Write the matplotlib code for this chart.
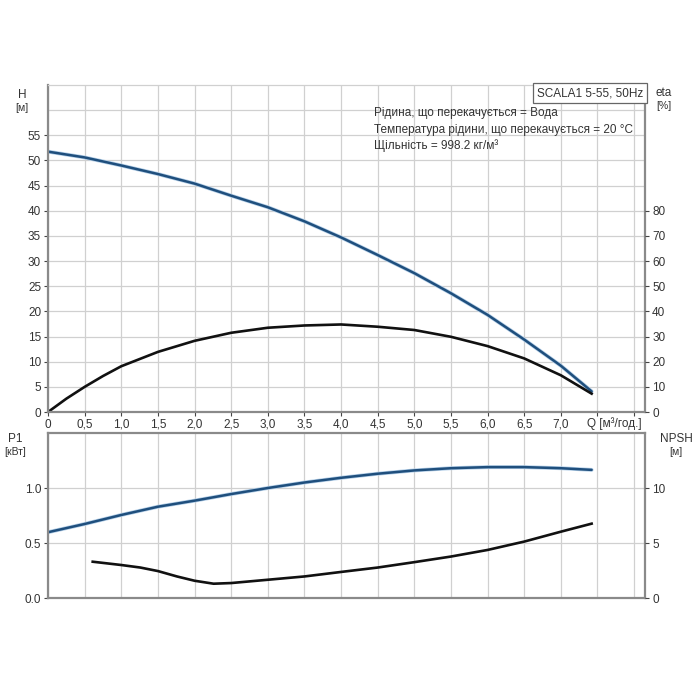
import numpy as np
import matplotlib.pyplot as plt

plt.rcParams['font.family'] = ['Liberation Sans', 'DejaVu Sans']
plt.rcParams['font.size'] = 8.5

# Q [m3/h]
q_top = [0, 0.5, 1.0, 1.5, 2.0, 2.5, 3.0, 3.5, 4.0, 4.5, 5.0, 5.5, 6.0, 6.5, 7.0, 7.42]
head = [51.75, 50.6, 49.0, 47.3, 45.4, 43.0, 40.7, 37.9, 34.7, 31.2, 27.6, 23.6, 19.3, 14.4, 9.2, 4.1]

q_eta = [0, 0.25, 0.5, 0.75, 1.0, 1.5, 2.0, 2.5, 3.0, 3.5, 4.0, 4.5, 5.0, 5.5, 6.0, 6.5, 7.0, 7.42]
eta = [0, 5.3, 10.0, 14.3, 18.2, 23.9, 28.3, 31.5, 33.5, 34.4, 34.8, 33.9, 32.6, 29.9, 26.2, 21.3, 14.6, 7.3]

q_p1 = [0, 0.5, 1.0, 1.5, 2.0, 2.5, 3.0, 3.5, 4.0, 4.5, 5.0, 5.5, 6.0, 6.5, 7.0, 7.42]
p1 = [0.598, 0.673, 0.755, 0.83, 0.885, 0.945, 1.0, 1.05, 1.093, 1.13, 1.16, 1.18, 1.19, 1.19, 1.18, 1.165]

q_npsh = [0.61, 1.0, 1.26, 1.5, 1.76, 2.0, 2.26, 2.5, 3.0, 3.5, 4.0, 4.5, 5.0, 5.5, 6.0, 6.5, 7.0, 7.42]
npsh = [3.3, 3.0, 2.77, 2.45, 1.96, 1.57, 1.3, 1.36, 1.66, 1.96, 2.37, 2.77, 3.26, 3.77, 4.37, 5.13, 6.03, 6.76]

x_ticks = np.arange(0, 8.01, 0.5)
x_labels = ['0'] + [('%.1f' % v).replace('.', ',') for v in x_ticks[1:15]] + ['', '']

blue = '#1f4f7d'
halo = '#b4cfe8'
spine_col = '#8a8a8a'
grid_col = '#d0d0d0'
text_col = '#333333'

fig = plt.figure(figsize=(7, 7), dpi=100)
ax1 = fig.add_axes([0.0686, 0.4114, 0.853, 0.4672])
ax2 = fig.add_axes([0.0686, 0.1457, 0.853, 0.2357])


def style(ax):
    for s in ['left', 'right', 'bottom', 'top']:
        ax.spines[s].set_color(spine_col)
        ax.spines[s].set_linewidth(1.6)
    ax.set_xlim(0, 8.15)
    ax.set_xticks(x_ticks)
    ax.grid(True, color=grid_col, linewidth=0.9)
    ax.set_axisbelow(True)
    ax.tick_params(length=3, width=0.8, color='#444444', labelcolor=text_col, pad=2)


# top: head and efficiency
style(ax1)
ax1.spines['top'].set_color(grid_col)
ax1.spines['top'].set_linewidth(0.9)
ax1.set_ylim(0, 65)
ax1.set_yticks(np.arange(0, 56, 5))
ax1.axhline(60, color=grid_col, linewidth=0.9, zorder=0)
ax1.set_xticklabels(x_labels)
ax1.plot(q_top, head, color=halo, linewidth=2.8, solid_capstyle='round')
ax1.plot(q_top, head, color=blue, linewidth=1.8, solid_capstyle='round')
ax1.plot(q_eta, np.array(eta) / 2.0, color='#111111', linewidth=1.9)

ax1r = ax1.twinx()
ax1r.set_ylim(0, 130)
ax1r.set_yticks(np.arange(0, 81, 10))
ax1r.tick_params(length=3, width=0.8, color='#444444', labelcolor=text_col, pad=2)
for s in ax1r.spines.values():
    s.set_visible(False)

fig.text(22 / 700, 1 - 95 / 700, 'H', ha='center', va='center', color=text_col)
fig.text(22 / 700, 1 - 108 / 700, '[м]', ha='center', va='center', color=text_col, fontsize=7.5)
fig.text(664 / 700, 1 - 93 / 700, 'eta', ha='center', va='center', color=text_col)
fig.text(664 / 700, 1 - 106 / 700, '[%]', ha='center', va='center', color=text_col, fontsize=7.5)
fig.text(614 / 700, 1 - 424 / 700, 'Q [м³/год.]', ha='center', va='center', color=text_col)

ax1.text(0.997, 0.993, 'SCALA1 5-55, 50Hz', transform=ax1.transAxes, ha='right', va='top',
         color=text_col, bbox=dict(boxstyle='square,pad=0.35', fc='white', ec='#666666', lw=0.9))
info = ['Рідина, що перекачується = Вода',
        'Температура рідини, що перекачується = 20 °C',
        'Щільність = 998.2 кг/м³']
for i, line in enumerate(info):
    fig.text(374 / 700, 1 - (113 + 16.5 * i) / 700, line, ha='left', va='center', color=text_col)

# bottom: power and NPSH
style(ax2)
ax2.set_ylim(0, 1.5)
ax2.set_yticks([0, 0.5, 1.0])
ax2.set_yticklabels(['0.0', '0.5', '1.0'])
ax2.set_xticklabels([])
ax2.tick_params(axis='x', length=0)
ax2.plot(q_p1, p1, color=halo, linewidth=2.8, solid_capstyle='round')
ax2.plot(q_p1, p1, color=blue, linewidth=1.8, solid_capstyle='round')

ax2r = ax2.twinx()
ax2r.set_ylim(0, 15)
ax2r.set_yticks([0, 5, 10])
ax2r.tick_params(length=3, width=0.8, color='#444444', labelcolor=text_col, pad=2)
for s in ax2r.spines.values():
    s.set_visible(False)
ax2r.plot(q_npsh, npsh, color='#111111', linewidth=1.9)

fig.text(15 / 700, 1 - 439 / 700, 'P1', ha='center', va='center', color=text_col)
fig.text(15 / 700, 1 - 452 / 700, '[кВт]', ha='center', va='center', color=text_col, fontsize=7.5)
fig.text(676 / 700, 1 - 439 / 700, 'NPSH', ha='center', va='center', color=text_col)
fig.text(676 / 700, 1 - 452 / 700, '[м]', ha='center', va='center', color=text_col, fontsize=7.5)

fig.savefig('out.png', dpi=100, facecolor='white')
